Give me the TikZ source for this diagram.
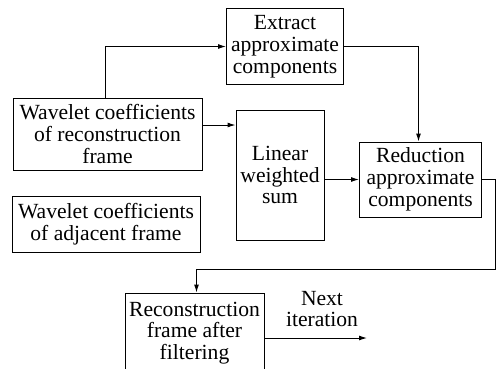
\documentclass[tikz,border=0pt]{standalone}
\usepackage{fontspec}
\setmainfont{Liberation Serif}
\usetikzlibrary{arrows.meta}
\begin{document}
\begin{tikzpicture}[x=1pt,y=-1pt,
  box/.style={draw,line width=1pt,align=center,inner sep=0pt,
    font=\fontsize{21.6}{21.8}\selectfont},
  lbl/.style={align=center,inner sep=0pt,font=\fontsize{21.6}{21.8}\selectfont},
  arr/.style={line width=1pt,-{Latex[length=8pt,width=5pt]}}]
\useasboundingbox (0,0) rectangle (497,368);
\node[box,minimum width=117pt,minimum height=76pt] (extract) at (285,46.5) {Extract\\approximate\\components};
\node[box,minimum width=189pt,minimum height=72pt] (recon) at (107.5,134) {Wavelet coefficients\\of reconstruction\\frame};
\node[box,minimum width=88pt,minimum height=130pt] (linear) at (280,175) {Linear\\weighted\\sum};
\node[box,minimum width=122pt,minimum height=75pt] (reduction) at (420.5,179.5) {Reduction\\approximate\\components};
\node[box,minimum width=188pt,minimum height=56pt] (adjacent) at (106,224) {Wavelet coefficients\\of adjacent frame};
\node[box,minimum width=139pt,minimum height=80pt] (filter) at (194.5,333) {Reconstruction\\frame after\\filtering};
\node[lbl] (next) at (322,309) {Next\\iteration};
\coordinate (up) at (105,0);
\coordinate (lw) at (0,125);
\coordinate (turn) at (495,269);
\coordinate (out) at (367,338);
\draw[arr] (recon.north -| up) |- (extract.west);
\draw[arr] (recon.east |- lw) -- (linear.west |- lw);
\draw[arr] (extract.east) -| ([xshift=-2pt]reduction.north);
\draw[arr] (linear.east |- reduction.west) -- (reduction.west);
\draw[arr] (reduction.east) -| (turn) -| ([xshift=2pt]filter.north);
\draw[arr] (filter.east |- out) -- (out);
\end{tikzpicture}
\end{document}
